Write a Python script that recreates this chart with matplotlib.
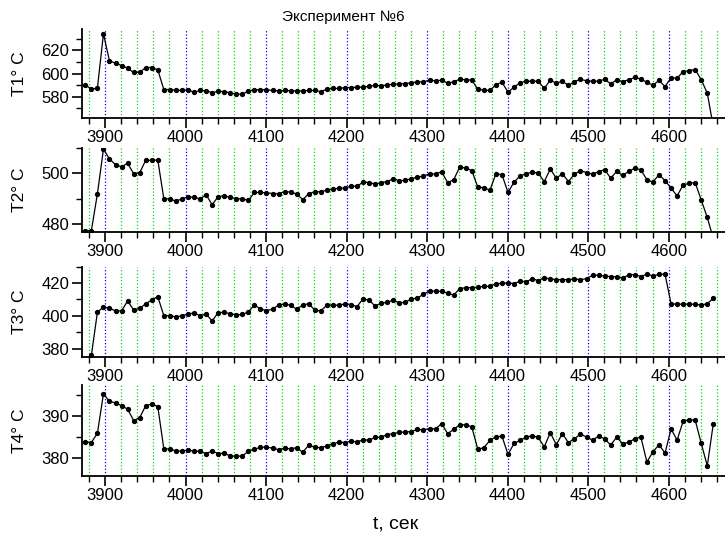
import numpy as np
import matplotlib
matplotlib.use('Agg')
import matplotlib.pyplot as plt
from matplotlib.ticker import MultipleLocator

plt.rcParams['font.family'] = ['Liberation Sans', 'DejaVu Sans']

# время: отсчёты каждые 7.5 с
t0, dt, n = 3875.5, 7.5, 105
t = t0 + dt * np.arange(n)

T1 = [590.3, 586.6, 587.5, 634.3, 611.0, 609.0, 607.0, 604.7, 601.0, 601.2,
      605.3, 605.3, 603.3, 586.3, 586.3, 585.7, 585.5, 586.0, 584.0, 585.5,
      585.2, 583.7, 584.7, 584.5, 583.4, 582.3, 582.3, 585.0, 586.0, 586.3,
      586.0, 585.5, 585.2, 585.5, 585.2, 585.2, 585.2, 585.5, 585.5, 584.5,
      586.6, 587.2, 587.2, 588.0, 588.0, 588.3, 588.3, 589.2, 589.8, 589.5,
      590.3, 590.9, 591.2, 591.5, 592.1, 592.9, 592.9, 594.4, 593.8, 594.4,
      591.8, 592.9, 595.2, 594.7, 594.4, 586.6, 585.7, 585.5, 590.6, 592.6,
      584.0, 588.4, 592.1, 593.5, 593.5, 593.5, 587.2, 594.4, 591.8, 593.5,
      589.8, 593.2, 595.2, 593.8, 593.5, 593.5, 595.2, 591.2, 594.7, 593.2,
      594.7, 596.7, 595.5, 592.4, 590.1, 594.1, 588.9, 596.4, 596.1, 601.8,
      602.7, 603.5, 594.7, 583.2, 554.0]

T2 = [477.4, 477.4, 491.9, 509.4, 505.6, 503.3, 502.5, 503.9, 499.8, 500.1,
      505.1, 505.0, 505.2, 489.9, 489.9, 489.0, 489.9, 490.7, 490.5, 489.9,
      491.5, 487.6, 490.8, 491.1, 490.5, 490.0, 489.9, 489.3, 492.4, 492.4,
      492.3, 492.0, 491.9, 492.7, 492.6, 491.8, 489.6, 491.9, 492.7, 492.7,
      493.3, 493.7, 494.1, 494.1, 494.9, 494.8, 496.5, 496.3, 495.7, 496.3,
      496.7, 497.8, 497.0, 497.2, 497.8, 498.4, 498.8, 499.8, 499.6, 500.6,
      496.3, 497.4, 502.4, 502.0, 501.0, 494.5, 494.3, 493.3, 499.8, 499.4,
      492.4, 496.5, 498.9, 499.8, 500.4, 500.0, 496.7, 501.6, 498.0, 499.8,
      496.7, 499.6, 501.0, 500.2, 499.6, 500.6, 501.4, 498.0, 500.7, 499.1,
      500.7, 502.0, 501.3, 497.4, 496.5, 499.4, 497.1, 494.1, 491.1, 495.3,
      496.1, 496.3, 489.4, 482.6, 474.2]

T3 = [373.0, 375.8, 402.2, 405.4, 404.6, 403.0, 403.0, 409.1, 403.6, 404.6,
      407.3, 409.7, 411.7, 400.1, 400.1, 399.3, 400.1, 401.0, 401.8, 400.0,
      401.0, 396.9, 401.9, 402.2, 401.2, 400.6, 400.8, 402.4, 406.6, 404.2,
      403.2, 404.0, 406.6, 407.1, 406.5, 404.0, 406.6, 407.4, 403.4, 403.0,
      406.6, 406.5, 406.5, 407.3, 406.9, 405.6, 410.5, 409.5, 406.0, 407.7,
      408.3, 409.5, 407.9, 408.3, 410.3, 410.9, 413.2, 415.2, 415.0, 415.0,
      413.8, 412.7, 416.6, 417.2, 417.2, 417.4, 418.0, 418.0, 419.6, 419.8,
      420.2, 419.6, 421.3, 420.7, 422.7, 421.5, 423.3, 422.5, 422.1, 422.1,
      422.1, 422.5, 422.1, 422.7, 424.8, 424.8, 424.2, 424.0, 423.8, 423.0,
      425.0, 425.2, 424.0, 425.5, 424.4, 425.3, 425.5, 407.3, 407.1, 407.1,
      407.1, 407.1, 406.6, 407.4, 410.7]

T4 = [383.9, 383.7, 385.9, 395.2, 393.4, 393.1, 392.4, 391.6, 388.9, 389.6,
      392.4, 392.8, 392.2, 382.2, 382.2, 381.7, 381.7, 381.9, 381.7, 381.6,
      381.1, 381.7, 381.1, 381.2, 380.5, 380.5, 380.5, 381.7, 382.1, 382.6,
      382.6, 382.4, 382.0, 382.4, 382.2, 382.5, 381.4, 383.1, 382.6, 382.5,
      382.9, 383.4, 383.8, 383.7, 384.0, 383.9, 384.3, 384.3, 384.9, 385.0,
      385.6, 385.8, 386.1, 386.2, 386.3, 386.8, 386.7, 387.0, 386.9, 388.2,
      385.8, 386.8, 387.9, 387.9, 387.4, 382.1, 382.5, 384.2, 385.1, 385.2,
      380.9, 383.5, 384.2, 385.0, 385.3, 384.9, 382.7, 386.0, 383.2, 385.8,
      383.7, 384.6, 385.7, 385.0, 384.3, 385.2, 384.6, 383.1, 385.0, 383.4,
      383.8, 384.6, 385.0, 379.1, 381.5, 383.2, 381.2, 386.9, 384.3, 388.7,
      389.1, 389.0, 383.5, 378.2, 388.2]

series = [T1, T2, T3, T4]
ylabels = ['T1° C', 'T2° C', 'T3° C', 'T4° C']
ylims = [(562, 638.5), (477, 510), (375, 430), (375.8, 397.3)]
ymajor = [20, 20, 20, 10]
yminor = [10, 10, 10, 5]

# положение осей (доли фигуры): низ, высота
boxes = [(0.7836, 0.1631), (0.5741, 0.1544), (0.3443, 0.1654), (0.125, 0.1673)]

fig = plt.figure(figsize=(7.25, 5.44), dpi=100)
left = 0.1127

for k in range(4):
    b, h = boxes[k]
    ax = fig.add_axes([left, b, 1.0 - left, h])
    ax.plot(t, series[k], '-', color='black', lw=0.9,
            marker='o', ms=2.8, mfc='black', mec='black', zorder=3)
    ax.set_xlim(3871, 4670)
    ax.set_ylim(*ylims[k])

    ax.xaxis.set_major_locator(MultipleLocator(100))
    ax.xaxis.set_minor_locator(MultipleLocator(20))
    ax.yaxis.set_major_locator(MultipleLocator(ymajor[k]))
    ax.yaxis.set_minor_locator(MultipleLocator(yminor[k]))

    # вертикальная сетка: синие на сотнях, зелёные на каждые 20
    ax.grid(which='major', axis='x', color='#0000ff', ls=':', lw=0.9)
    ax.grid(which='minor', axis='x', color='#00e000', ls=':', lw=0.9)
    ax.set_axisbelow(True)

    for s in ['top', 'right']:
        ax.spines[s].set_visible(False)
    ax.spines['left'].set_linewidth(1.3)
    ax.spines['bottom'].set_linewidth(1.3)
    ax.tick_params(which='major', direction='out', length=7, width=1.2,
                   labelsize=12, pad=2)
    ax.tick_params(which='minor', direction='out', length=4, width=1.0)

    ax.set_ylabel(ylabels[k], fontsize=12.5)
    ax.yaxis.set_label_coords(-0.085, 0.5)

fig.text(0.473, 0.968, 'Эксперимент №6', fontsize=11, ha='center', va='center')
fig.text(0.545, 0.037, 't, сек', fontsize=14, ha='center', va='center')

fig.savefig('out.png', dpi=100)
